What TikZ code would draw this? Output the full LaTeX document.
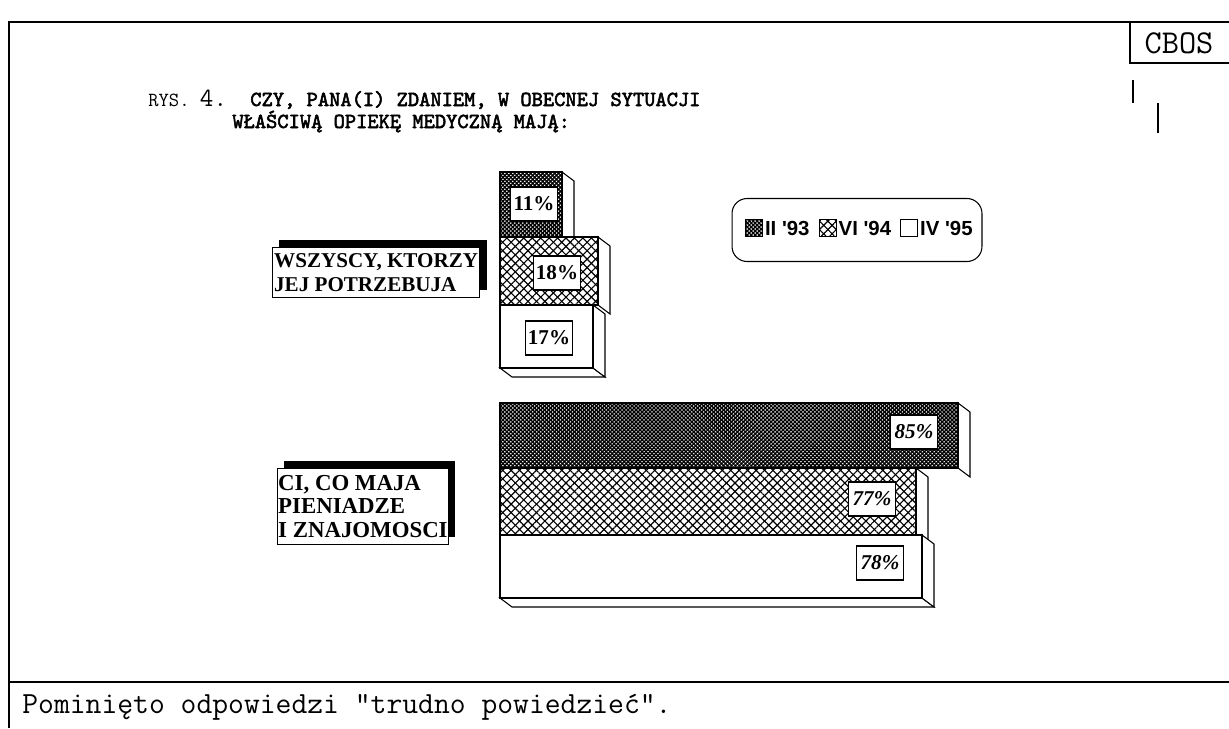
\documentclass[tikz,border=0pt]{standalone}
\usepackage{fontspec}
\setmainfont{Liberation Serif}
\newfontfamily\legfont{Liberation Sans}
\newfontfamily\titlefont[FakeBold=2.5]{lmmono10-regular.otf}
\usetikzlibrary{patterns.meta,positioning,shadows}

\tikzset{
  barline/.style={draw=black, line width=0.6pt, fill=white},
  dense/.style={postaction={pattern={Lines[angle=45,distance=1.6pt,line width=0.8pt]}},
                postaction={pattern={Lines[angle=-45,distance=1.6pt,line width=0.8pt]}}},
  sparse/.style={postaction={pattern={Lines[angle=45,distance=3.4pt,line width=0.65pt]}},
                 postaction={pattern={Lines[angle=-45,distance=3.4pt,line width=0.65pt]}}},
  pct/.style={draw, fill=white, line width=0.6pt, minimum width=0.94cm, minimum height=0.68cm,
              inner sep=0pt, font=\fontsize{12}{13}\selectfont\bfseries},
  catlabel/.style={draw, fill=white, line width=0.5pt, align=left, inner xsep=1pt, inner ysep=2pt,
                   anchor=north west, general shadow={fill=black, shadow xshift=4pt, shadow yshift=4.5pt},
                   font=\fontsize{12}{13.3}\selectfont\bfseries},
  swatch/.style={draw, fill=white, line width=0.5pt, minimum width=0.34cm, minimum height=0.34cm, inner sep=0pt},
  legtext/.style={font=\legfont\fontsize{11.6}{13}\selectfont\bfseries, inner sep=0pt}
}

% 3D bar: right x, top y, bottom y, pattern
\newcommand{\cbosbar}[4]{%
  \draw[barline] (#1,#2) -- ++(12,9) -- ++(0,#3-#2) -- (#1,#3) -- cycle;
  \draw[barline,#4] (500,#2) rectangle (#1,#3);
}
% bottom face of the last bar
\newcommand{\cbosbase}[2]{%
  \draw[barline] (500,#2) -- ++(12,9) -- (#1+12,#2+9) -- (#1,#2) -- cycle;
}

\begin{document}
\begin{tikzpicture}[x=0.02cm, y=-0.02cm]
	\useasboundingbox (0,0) rectangle (1229,728);

	% Frame
	\draw[line width=0.6pt] (9,728) -- (9,22) -- (1229,22);
	\draw[line width=0.6pt] (9,682) -- (1229,682);
	\draw[line width=0.6pt] (1130,22) -- (1130,63) -- (1229,63);
	\node[font=\ttfamily\fontsize{19}{21}\selectfont] (cbos) at (1179,43) {CBOS};
	\draw[line width=0.6pt] (1133,80) -- (1133,103);
	\draw[line width=0.6pt] (1158,103) -- (1158,133);

	% Title
	\node[anchor=base west, inner sep=0pt, font=\ttfamily\fontsize{11.4}{13}\selectfont] (rys) at (148,106) {RYS. {\fontsize{15}{16}\selectfont 4.}};
	\node[anchor=base west, inner sep=0pt, font=\titlefont\fontsize{12.2}{13}\selectfont] (tytul1) at (250,106) {CZY, PANA(I) ZDANIEM, W OBECNEJ SYTUACJI};
	\node[anchor=base west, inner sep=0pt, font=\titlefont\fontsize{12.2}{13}\selectfont] (tytul2) at (232,128) {WŁAŚCIWĄ OPIEKĘ MEDYCZNĄ MAJĄ:};

	% Bars: wszyscy
	\cbosbar{562}{172}{237}{dense}
	\cbosbar{598}{237}{305}{sparse}
	\cbosbase{593}{368}
	\cbosbar{593}{305}{368}{}
	\node[pct] (p11) at (534,204) {11\%};
	\node[pct] (p18) at (557,273) {18\%};
	\node[pct] (p17) at (549,338) {17\%};

	% Bars: ci, co maja
	\cbosbar{958}{403}{468}{dense}
	\cbosbar{916}{468}{535}{sparse}
	\cbosbase{922}{598}
	\cbosbar{922}{535}{598}{}
	\node[pct, font=\fontsize{12}{13}\selectfont\bfseries\itshape] (p85) at (914,432) {85\%};
	\node[pct, font=\fontsize{12}{13}\selectfont\bfseries\itshape] (p77) at (872,499) {77\%};
	\node[pct, font=\fontsize{12}{13}\selectfont\bfseries\itshape] (p78) at (880,563) {78\%};

	% Category labels
	\node[catlabel, minimum width=3.98cm, minimum height=1cm] (wszyscy) at (272,247) {WSZYSCY, KTORZY\\JEJ POTRZEBUJA};
	\node[catlabel, minimum width=3.42cm, minimum height=1.52cm, inner xsep=0pt, font=\fontsize{13}{13.3}\selectfont\bfseries] (ci) at (277,468) {CI, CO MAJA\\PIENIADZE\\I ZNAJOMOSCI};

	% Legend
	\node[draw, rounded corners=0.3cm, line width=0.6pt, minimum width=5cm, minimum height=1.26cm] (legenda) at (857,230) {};
	\node[swatch, dense] (s93) at (754,228) {};
	\node[legtext, right=1pt of s93] (l93) {II '93};
	\node[swatch, sparse, right=5pt of l93] (s94) {};
	\node[legtext, right=1pt of s94] (l94) {VI '94};
	\node[swatch, right=5pt of l94] (s95) {};
	\node[legtext, right=1pt of s95] (l95) {IV '95};

	% Footer
	\node[anchor=base west, inner sep=0pt, font=\ttfamily\fontsize{17.5}{19}\selectfont] (uwaga) at (22,713) {Pominięto odpowiedzi "trudno powiedzieć".};
\end{tikzpicture}
\end{document}
